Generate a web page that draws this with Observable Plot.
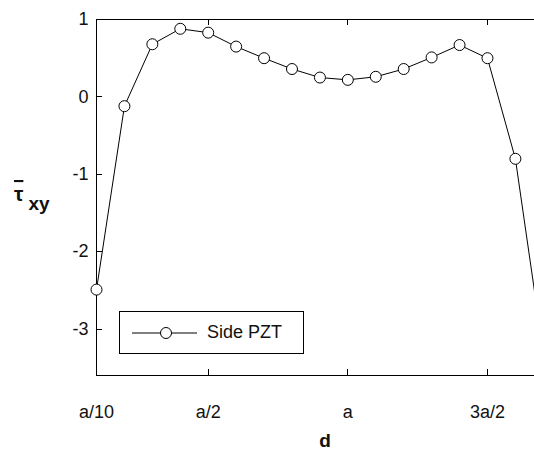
<!DOCTYPE html>
<html>
<head>
<meta charset="utf-8">
<script src="https://cdn.jsdelivr.net/npm/d3@7"></script>
<script src="https://cdn.jsdelivr.net/npm/@observablehq/plot@0.6"></script>
<style>
  html, body { margin: 0; padding: 0; background: #fff; }
  #wrap { position: relative; width: 534px; height: 459px; overflow: hidden; font-family: Arial, "Liberation Sans", sans-serif; }
  #chart { width: 560px; }
  #chart svg { max-width: none !important; display: block; }
  #legend { position: absolute; left: 119px; top: 311px; width: 183px; height: 41px; border: 1px solid #000; background: #fff; }
  #legend svg { position: absolute; left: 0; top: 0; }
  #legend span { position: absolute; left: 87px; top: 10px; font-size: 18px; color: #111; white-space: nowrap; }
</style>
</head>
<body>
<div id="wrap">
  <div id="chart"></div>
  <div id="legend">
    <svg width="183" height="41"><line x1="12" x2="77" y1="21" y2="21" stroke="#000" stroke-width="1"/><circle cx="46" cy="21" r="5.5" fill="#fff" stroke="#000" stroke-width="1"/></svg>
    <span>Side PZT</span>
  </div>
</div>
<script>
// data (d in units of a)
const dValues = [0.1, 0.2, 0.3, 0.4, 0.5, 0.6, 0.7, 0.8, 0.9, 1.0, 1.1, 1.2, 1.3, 1.4, 1.5, 1.6, 1.7];
const tauValues = [-2.49, -0.12, 0.68, 0.88, 0.83, 0.65, 0.50, 0.36, 0.25, 0.22, 0.26, 0.36, 0.51, 0.67, 0.50, -0.80, -3.3];
const seriesName = "Side PZT";
const xTickValues = [0.1, 0.5, 1.0, 1.5];
const xTickLabels = ["a/10", "a/2", "a", "3a/2"];
const yTickValues = [-3, -2, -1, 0, 1];
const yTickLabels = ["-3", "-2", "-1", "0", "1"];
const xDomain = [0.1, 1.74];
const yDomain = [-3.6, 1];

const data = dValues.map((d, i) => ({d, tau: tauValues[i]}));

const W = 560, H = 459;
const mL = 96, mT = 19, mB = 84, mR = 6;
const tickLen = 6;

const chart = Plot.plot({
  width: W,
  height: H,
  marginLeft: mL, marginTop: mT, marginBottom: mB, marginRight: mR,
  style: {fontFamily: "Arial, 'Liberation Sans', sans-serif", fontSize: "18px", color: "#111", background: "#fff", maxWidth: "none"},
  x: {domain: xDomain},
  y: {domain: yDomain},
  marks: [
    Plot.frame({stroke: "#000", strokeWidth: 1}),
    Plot.axisX({ticks: xTickValues, tickFormat: d => xTickLabels[xTickValues.indexOf(d)], tickSize: 0, tickPadding: 30, label: null, fontSize: 18}),
    Plot.axisY({ticks: yTickValues, tickFormat: d => yTickLabels[yTickValues.indexOf(d)], tickSize: 0, tickPadding: 8, label: null, fontSize: 18}),
    Plot.line(data, {x: "d", y: "tau", stroke: "#000", strokeWidth: 1}),
    Plot.dot(data, {x: "d", y: "tau", r: 5.5, fill: "#fff", stroke: "#000", strokeWidth: 1})
  ]
});
chart.style.maxWidth = "none";
document.getElementById("chart").appendChild(chart);

// inward tick marks, placed with the chart's own scales
const sx = chart.scale("x"), sy = chart.scale("y");
const svgSel = d3.select(chart);
const frameTop = sy.apply(yDomain[1]), frameBottom = sy.apply(yDomain[0]), frameLeft = sx.apply(xDomain[0]);
const tg = svgSel.append("g").attr("stroke", "#000").attr("stroke-width", 1);
for (const v of xTickValues) {
  const px = Math.round(sx.apply(v)) + 0.5;
  tg.append("line").attr("x1", px).attr("x2", px).attr("y1", frameBottom).attr("y2", frameBottom - tickLen);
  tg.append("line").attr("x1", px).attr("x2", px).attr("y1", frameTop).attr("y2", frameTop + tickLen);
}
for (const v of yTickValues) {
  const py = Math.round(sy.apply(v)) + 0.5;
  tg.append("line").attr("x1", frameLeft).attr("x2", frameLeft + tickLen).attr("y1", py).attr("y2", py);
}

// axis titles
svgSel.append("text")
  .attr("x", 325).attr("y", 447)
  .attr("text-anchor", "middle")
  .attr("font-weight", "bold").attr("font-size", 19)
  .attr("fill", "#111")
  .text("d");
const yl = svgSel.append("text")
  .attr("x", 14).attr("y", 201)
  .attr("text-anchor", "start")
  .attr("font-weight", "bold").attr("fill", "#111");
yl.append("tspan").attr("font-size", 21).style("text-decoration", "overline").text("τ");
yl.append("tspan").attr("font-size", 19).attr("dx", 5).attr("dy", 9).text("xy");
</script>
</body>
</html>
